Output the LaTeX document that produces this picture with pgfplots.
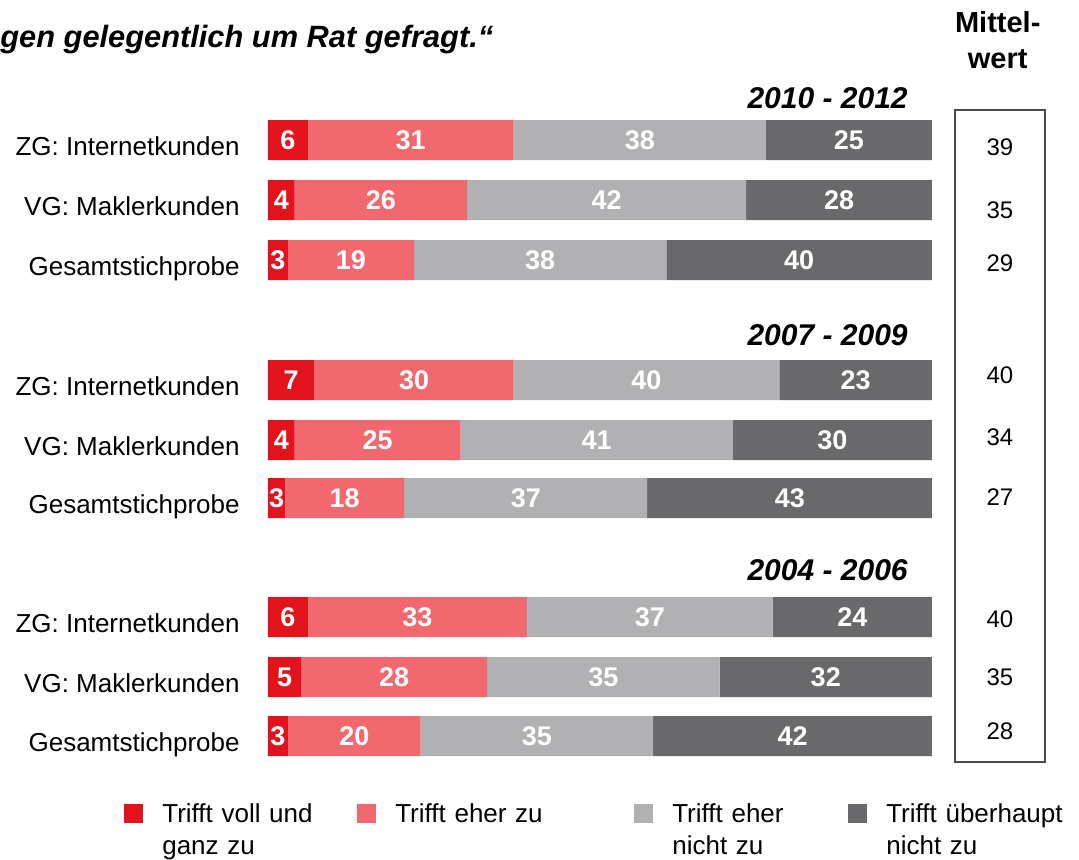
\documentclass[border=0pt]{standalone}
\usepackage{fontspec}
\setmainfont{Liberation Sans}
\usepackage{pgfplots}
\usepackage{pgfplotstable}
\pgfplotsset{compat=1.18}
\definecolor{cA}{HTML}{E3131E}
\definecolor{cB}{HTML}{F2686F}
\definecolor{cC}{HTML}{B1B1B3}
\definecolor{cD}{HTML}{69696B}
\pgfplotsset{sq/.style={legend image code/.code={\fill[##1] (0pt,-0.1pt) rectangle (9.5pt,9.4pt);}}}

% y = row position (from top), a..d = segment lengths in percent
\pgfplotstableread{
y   a    b    c    d
140 6    31   38   25
200 4    26   42   28
260 3    19   38   40
380 7    30   40   23
440 4    25   41   30
498 2.6  17.9 36.6 42.9
617 6    33   37   24
677 5    28   35   32
736 3    20   35   42
}\bars

\begin{document}
\begin{tikzpicture}
\pgfplotsset{base/.style={scale only axis, width=539.5pt, height=429.5pt,
  xmin=-40.36, xmax=122.14, ymin=0, ymax=859, y dir=reverse, hide axis, clip=false}}
\begin{axis}[base, xbar stacked, bar width=20pt,
  legend columns=4,
  legend style={at={(axis cs:-22.6,796)}, anchor=north west, draw=none, fill=none,
    font=\fontsize{13}{16}\selectfont,
    cells={anchor=base west}, nodes={inner sep=0pt},
    /tikz/every odd column/.append style={column sep=9.5pt},
    /tikz/every even column/.append style={column sep=0pt}}]
\addplot[fill=cA, draw=none, sq] table[x=a,y=y]{\bars};
\addlegendentry[text width=97.5pt]{\begin{tabular}[t]{@{}l@{}}Trifft voll und\\ganz zu\end{tabular}}
\addplot[fill=cB, draw=none, sq] table[x=b,y=y]{\bars};
\addlegendentry[text width=119.5pt]{\begin{tabular}[t]{@{}l@{}}Trifft eher zu\end{tabular}}
\addplot[fill=cC, draw=none, sq] table[x=c,y=y]{\bars};
\addlegendentry[text width=88pt]{\begin{tabular}[t]{@{}l@{}}Trifft eher\\nicht zu\end{tabular}}
\addplot[fill=cD, draw=none, sq] table[x=d,y=y]{\bars};
\addlegendentry[text width=90pt]{\begin{tabular}[t]{@{}l@{}}Trifft überhaupt\\nicht zu\end{tabular}}
\end{axis}

\begin{axis}[base]
% value labels inside the bars
\addplot[only marks, mark=none, point meta=explicit symbolic, nodes near coords,
  every node near coord/.append style={anchor=center, inner sep=0pt, text=white,
    font=\fontsize{13.5}{16}\selectfont\bfseries}]
coordinates {
(3,140)[6] (21.5,140)[31] (56,140)[38] (87.5,140)[25]
(2,200)[4] (17,200)[26] (51,200)[42] (86,200)[28]
(1.5,260)[3] (12.5,260)[19] (41,260)[38] (80,260)[40]
(3.5,380)[7] (22,380)[30] (57,380)[40] (88.5,380)[23]
(2,440)[4] (16.5,440)[25] (49.5,440)[41] (85,440)[30]
(1.3,498)[3] (11.55,498)[18] (38.85,498)[37] (78.6,498)[43]
(3,617)[6] (22.5,617)[33] (57.5,617)[37] (88,617)[24]
(2.5,677)[5] (19,677)[28] (50.5,677)[35] (84,677)[32]
(1.5,736)[3] (13,736)[20] (40.5,736)[35] (79,736)[42]
};
% category labels
\addplot[only marks, mark=none, point meta=explicit symbolic, nodes near coords,
  every node near coord/.append style={anchor=base east, inner sep=0pt, text=black,
    font=\fontsize{13}{15}\selectfont}]
coordinates {
(-4.22,155)[ZG: Internetkunden] (-4.22,215)[VG: Maklerkunden] (-4.22,275)[Gesamtstichprobe]
(-4.22,395)[ZG: Internetkunden] (-4.22,455)[VG: Maklerkunden] (-4.22,513)[Gesamtstichprobe]
(-4.22,632)[ZG: Internetkunden] (-4.22,692)[VG: Maklerkunden] (-4.22,751)[Gesamtstichprobe]
};
% Mittelwert
\addplot[only marks, mark=none, point meta=explicit symbolic, nodes near coords,
  every node near coord/.append style={anchor=center, inner sep=0pt, text=black,
    font=\fontsize{12}{14}\selectfont}]
coordinates {
(110.24,147)[39] (110.24,210)[35] (110.24,263)[29]
(110.24,375)[40] (110.24,437)[34] (110.24,497)[27]
(110.24,619)[40] (110.24,677)[35] (110.24,731)[28]
};
\draw[color=black!70, line width=0.75pt] (axis cs:103.46,110) rectangle (axis cs:117.0,762);
\node[anchor=east, inner sep=0pt, font=\fontsize{15}{18}\selectfont\bfseries\itshape] at (axis cs:96.4,98) {2010 - 2012};
\node[anchor=east, inner sep=0pt, font=\fontsize{15}{18}\selectfont\bfseries\itshape] at (axis cs:96.4,335) {2007 - 2009};
\node[anchor=east, inner sep=0pt, font=\fontsize{15}{18}\selectfont\bfseries\itshape] at (axis cs:96.4,570) {2004 - 2006};
\node[anchor=west, inner sep=0pt, font=\fontsize{15.4}{18}\selectfont\bfseries\itshape] at (axis cs:-40.36,40) {gen gelegentlich um Rat gefragt.“};
\node[align=center, inner sep=0pt, font=\fontsize{14.5}{18}\selectfont\bfseries] at (axis cs:109.9,40) {Mittel-\\wert};
\end{axis}
\pgfresetboundingbox
\path (current axis.south west) rectangle (current axis.north east);
\end{tikzpicture}
\end{document}
